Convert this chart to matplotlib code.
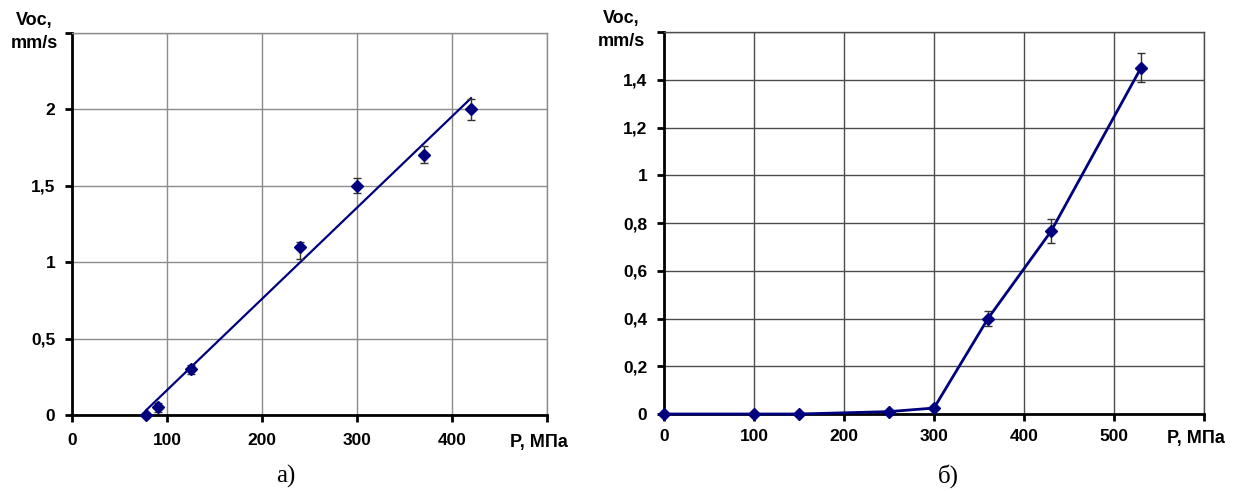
import numpy as np
import matplotlib
matplotlib.use("Agg")
import matplotlib.pyplot as plt

# ---- data panel a ----
pa_x = [78, 90, 125, 240, 300, 370, 420]
pa_y = [0.0, 0.05, 0.30, 1.10, 1.50, 1.70, 2.00]
pa_err_lo = [0.0, 0.03, 0.03, 0.08, 0.05, 0.05, 0.07]
pa_err_hi = [0.0, 0.03, 0.03, 0.03, 0.05, 0.06, 0.07]
pa_xticks = [0, 100, 200, 300, 400]
pa_yticks = [0, 0.5, 1, 1.5, 2]
pa_yticklabels = ["0", "0,5", "1", "1,5", "2"]

# ---- data panel b ----
pb_x = [0, 100, 150, 250, 300, 360, 430, 530]
pb_y = [0.0, 0.0, 0.0, 0.01, 0.025, 0.40, 0.765, 1.45]
pb_err = [0.0, 0.0, 0.0, 0.0, 0.0, 0.03, 0.05, 0.06]
pb_xticks = [0, 100, 200, 300, 400, 500]
pb_yticks = [0, 0.2, 0.4, 0.6, 0.8, 1.0, 1.2, 1.4]
pb_yticklabels = ["0", "0,2", "0,4", "0,6", "0,8", "1", "1,2", "1,4"]

NAVY = "#00007f"
W, H = 1239, 491
fig = plt.figure(figsize=(W / 100, H / 100), dpi=100)
plt.rcParams["font.family"] = ["Liberation Sans", "DejaVu Sans"]

TICK_FS = 12.5
LAB_FS = 13


def ax_rect(l, r, t, b):
    return [l / W, 1 - b / H, (r - l) / W, (b - t) / H]


def style(ax, xmax, ymax, yticks, ytl, xticks, gridc, tickpad_x):
    ax.set_xlim(0, xmax)
    ax.set_ylim(0, ymax)
    ax.set_yticks(list(yticks) + [ymax])
    ax.set_yticklabels(list(ytl) + [""])
    ax.set_xticks(list(xticks) + [xmax])
    ax.set_xticklabels([str(v) for v in xticks] + [""])
    ax.grid(True, color=gridc, lw=1.0)
    ax.set_axisbelow(True)
    for s in ("top", "right"):
        ax.spines[s].set_color(gridc)
        ax.spines[s].set_linewidth(1.0)
    for s in ("left", "bottom"):
        ax.spines[s].set_color("black")
        ax.spines[s].set_linewidth(2.0)
    ax.tick_params(axis="both", direction="out", length=5, width=2, color="black",
                   labelsize=TICK_FS)
    ax.tick_params(axis="x", pad=tickpad_x)
    ax.tick_params(axis="y", pad=7)
    for lab in ax.get_xticklabels() + ax.get_yticklabels():
        lab.set_fontweight("bold")


# ---- panel a ----
axa = fig.add_axes(ax_rect(72, 547, 33, 415))
style(axa, 500, 2.5, pa_yticks, pa_yticklabels, pa_xticks, "#8c8c8c", 8)
coef = np.polyfit(pa_x, pa_y, 1)
xf = np.array([min(pa_x), max(pa_x)])
axa.plot(xf, np.polyval(coef, xf), color=NAVY, lw=1.6, zorder=3)
axa.errorbar(pa_x, pa_y, yerr=[pa_err_lo, pa_err_hi], fmt="D", color=NAVY, ms=6,
             ecolor="#333333", elinewidth=1, capsize=3, capthick=1, zorder=4,
             clip_on=False)

# ---- panel b ----
axb = fig.add_axes(ax_rect(664, 1204, 32, 414))
style(axb, 600, 1.6, pb_yticks, pb_yticklabels, pb_xticks, "#4d4d4d", 6)
axb.errorbar(pb_x, pb_y, yerr=pb_err, fmt="-D", color=NAVY, ms=6, lw=2,
             ecolor="#333333", elinewidth=1, capsize=3, capthick=1, zorder=4,
             clip_on=False)

# ---- labels ----
bold = dict(fontweight="bold", fontsize=LAB_FS, ha="center", va="center")
fig.text(34 / W, 1 - 21 / H, "Voc,", **bold)
fig.text(34 / W, 1 - 44 / H, "mm/s", **bold)
fig.text(539 / W, 1 - 443 / H, "P, МПа", **bold)

fig.text(621 / W, 1 - 19 / H, "Voc,", **bold)
fig.text(621 / W, 1 - 42 / H, "mm/s", **bold)
fig.text(1196 / W, 1 - 438 / H, "P, МПа", **bold)

serif = dict(fontsize=18, ha="center", va="center",
             family=["Liberation Serif", "DejaVu Serif"])
fig.text(286 / W, 1 - 476 / H, "а)", **serif)
fig.text(948 / W, 1 - 476 / H, "б)", **serif)

fig.savefig("out.png", dpi=100)
